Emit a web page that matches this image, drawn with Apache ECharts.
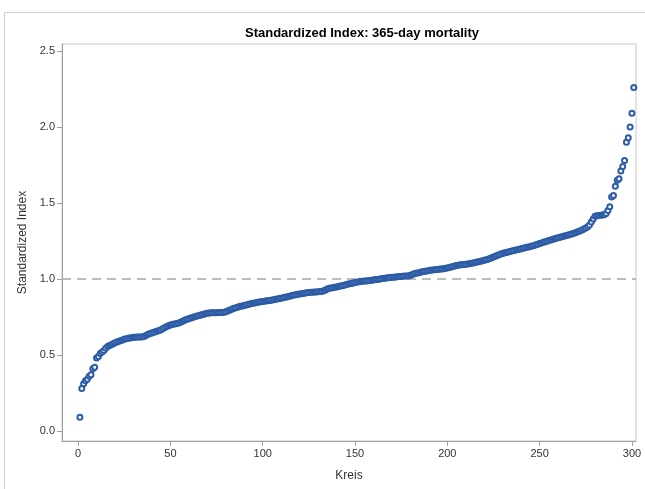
<!DOCTYPE html>
<html>
<head>
<meta charset="utf-8">
<script src="https://cdn.jsdelivr.net/npm/echarts@6/dist/echarts.min.js"></script>
<style>html,body{margin:0;padding:0;background:#fff;}#c{width:645px;height:489px;}</style>
</head>
<body>
<div id="c"></div>
<script>
var titleText = "Standardized Index: 365-day mortality";
var xName = "Kreis";
var yName = "Standardized Index";
var xTicks = [0, 50, 100, 150, 200, 250, 300];
var yTicks = [0, 0.5, 1.0, 1.5, 2.0, 2.5];
var refValue = 1.0;
var indexValues = [
0.09,0.28,0.31,0.33,0.34,0.36,0.37,0.41,0.42,0.48,
0.49,0.51,0.52,0.53,0.545,0.555,0.562,0.568,0.574,0.58,
0.585,0.59,0.594,0.598,0.603,0.607,0.61,0.612,0.614,0.616,
0.617,0.618,0.618,0.619,0.62,0.623,0.63,0.636,0.641,0.645,
0.649,0.653,0.657,0.661,0.666,0.674,0.681,0.687,0.692,0.697,
0.70,0.703,0.706,0.709,0.712,0.718,0.724,0.73,0.735,0.739,
0.743,0.747,0.751,0.755,0.758,0.762,0.765,0.768,0.771,0.774,
0.776,0.777,0.778,0.778,0.778,0.779,0.779,0.78,0.781,0.785,
0.79,0.795,0.80,0.805,0.809,0.813,0.817,0.82,0.823,0.826,
0.829,0.832,0.835,0.838,0.840,0.843,0.846,0.848,0.850,0.852,
0.854,0.856,0.857,0.859,0.861,0.864,0.866,0.868,0.871,0.873,
0.876,0.879,0.882,0.885,0.888,0.891,0.894,0.897,0.899,0.901,
0.903,0.905,0.907,0.909,0.911,0.912,0.913,0.914,0.915,0.916,
0.917,0.918,0.922,0.928,0.934,0.939,0.941,0.943,0.945,0.948,
0.951,0.953,0.956,0.959,0.962,0.965,0.968,0.971,0.974,0.977,
0.979,0.981,0.983,0.985,0.986,0.987,0.988,0.99,0.992,0.994,
0.996,0.997,0.999,1.001,1.003,1.005,1.007,1.008,1.010,1.011,
1.012,1.013,1.015,1.016,1.017,1.018,1.019,1.019,1.02,
1.024,1.029,1.034,1.037,1.040,1.043,1.046,1.049,1.051,1.053,
1.055,1.057,1.059,1.061,1.062,1.063,1.065,1.066,1.068,1.07,
1.073,1.076,1.079,1.082,1.085,1.088,1.091,1.093,1.094,1.096,
1.097,1.099,1.101,1.103,1.105,1.108,1.111,1.114,1.117,1.12,
1.123,1.126,1.13,1.135,1.14,1.145,1.149,1.154,1.159,1.164,
1.168,1.172,1.175,1.178,1.181,1.184,1.187,1.19,1.193,1.196,
1.199,1.202,1.205,1.208,1.211,1.214,1.217,1.221,1.225,1.229,
1.233,1.237,1.241,1.245,1.249,1.253,1.256,1.26,1.264,1.268,
1.272,1.275,1.278,1.281,1.284,1.287,1.291,1.295,1.299,1.303,
1.308,1.313,1.318,1.323,1.328,1.335,1.343,1.355,1.375,1.395,
1.412,1.416,1.418,1.42,1.421,1.423,1.43,1.45,1.475,1.54,
1.55,1.61,1.65,1.66,1.71,1.74,1.78,1.90,1.93,2.00,2.09,2.26
];

var pts = indexValues.map(function (v, i) { return [i + 1, v]; });
var font = "Liberation Sans, Arial, sans-serif";
var chart = echarts.init(document.getElementById('c'), null, {renderer: 'canvas'});
chart.setOption({
  animation: false,
  backgroundColor: '#fff',
  title: {
    text: titleText, left: 357, top: 22, textAlign: 'center',
    textStyle: {fontFamily: font, fontSize: 13, fontWeight: 'bold', color: '#000'}
  },
  graphic: [{
    type: 'rect', silent: true, z: -1,
    shape: {x: 4.5, y: 12.5, width: 700, height: 600},
    style: {fill: 'none', stroke: '#d0d0d0', lineWidth: 1}
  }],
  grid: {
    left: 62, top: 44, right: 9, bottom: 48,
    show: true, borderColor: '#c8c8c8', borderWidth: 1, backgroundColor: 'transparent'
  },
  xAxis: {
    type: 'value', min: -8.7, max: 302.2,
    name: xName, nameLocation: 'middle', nameGap: 29,
    nameTextStyle: {fontFamily: font, fontSize: 12, color: '#333'},
    axisLine: {show: true, onZero: false, lineStyle: {color: '#a0a0a0'}},
    axisTick: {show: true, length: 5, customValues: xTicks, lineStyle: {color: '#a0a0a0'}},
    axisLabel: {customValues: xTicks, fontFamily: font, fontSize: 11, color: '#333', margin: 7},
    splitLine: {show: false}
  },
  yAxis: {
    type: 'value', min: -0.066, max: 2.546,
    name: yName, nameLocation: 'middle', nameGap: 31,
    nameTextStyle: {fontFamily: font, fontSize: 12, color: '#333'},
    axisLine: {show: true, onZero: false, lineStyle: {color: '#a0a0a0'}},
    axisTick: {show: true, length: 5, customValues: yTicks, lineStyle: {color: '#a0a0a0'}},
    axisLabel: {customValues: yTicks, fontFamily: font, fontSize: 11, color: '#333', margin: 7,
      formatter: function (v) { return v.toFixed(1); }},
    splitLine: {show: false}
  },
  series: [{
    type: 'scatter',
    data: pts,
    symbol: 'emptyCircle',
    symbolSize: 5,
    itemStyle: {color: '#2d5ca6', borderColor: '#2d5ca6', borderWidth: 0.8, opacity: 1},
    markLine: {
      silent: true, symbol: 'none', z: 1,
      label: {show: false},
      lineStyle: {color: '#a8a8a8', width: 1.5, type: [9, 6]},
      data: [{yAxis: refValue}]
    }
  }]
});
</script>
</body>
</html>
